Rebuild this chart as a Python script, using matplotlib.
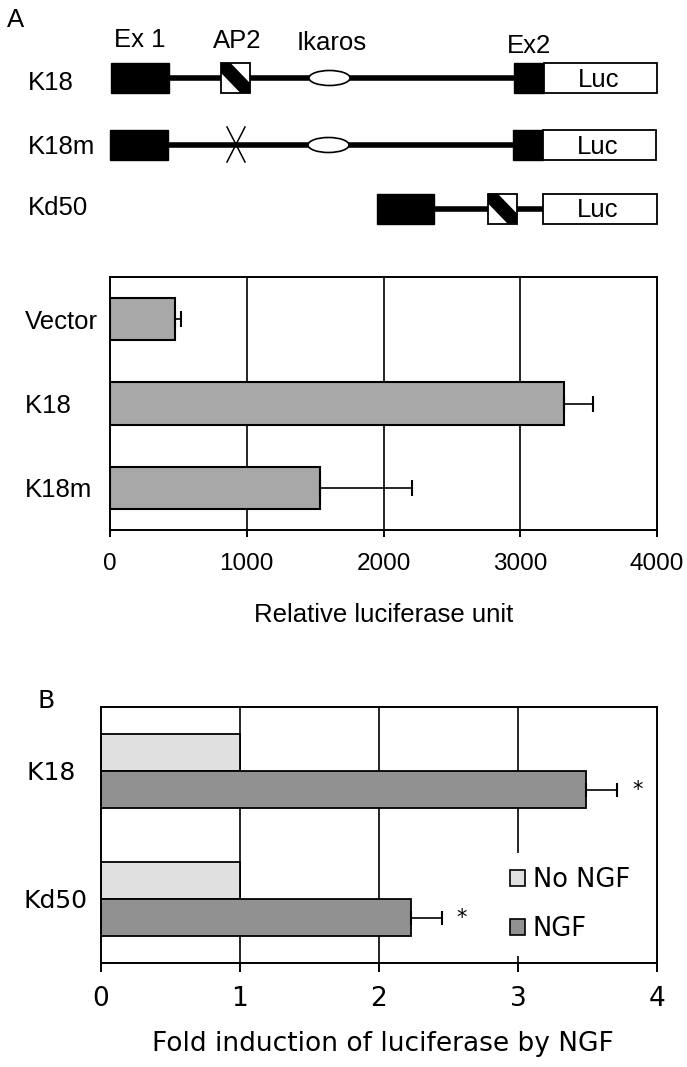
import numpy as np
import matplotlib.pyplot as plt
from matplotlib.patches import Rectangle, Ellipse, Polygon, Patch

W, H = 687, 1067

# panel A schematic
CONSTRUCTS = ["K18", "K18m", "Kd50"]
FEATURES = ["Ex 1", "AP2", "Ikaros", "Ex2"]
# elements of each construct: (kind, start, end) along the promoter (pixel units)
ELEMENTS = {
    "K18": [("line", 169, 514), ("exon", 111, 169), ("ap2", 221, 250),
            ("ikaros", 309, 350), ("exon", 514, 544), ("luc", 544, 657)],
    "K18m": [("line", 168, 513), ("exon", 110, 168), ("mut", 227, 245),
             ("ikaros", 308, 349), ("exon", 513, 543), ("luc", 543, 656)],
    "Kd50": [("line", 434, 543), ("exon", 377, 434), ("ap2", 488, 517),
             ("luc", 543, 657)],
}

# panel A bars
A_LABELS = ["Vector", "K18 ", "K18m"]
A_VALUES = [472, 3317, 1536]
A_ERRORS = [45, 215, 672]
A_TICKS = [0, 1000, 2000, 3000, 4000]

# panel B bars
B_LABELS = ["K18 ", "Kd50"]
B_NO_NGF = [1.0, 1.0]
B_NGF = [3.49, 2.23]
B_NGF_ERR = [0.22, 0.22]
B_TICKS = [0, 1, 2, 3, 4]

fig = plt.figure(figsize=(W / 100, H / 100), dpi=100)

def px_axes(left, top, right, bottom):
    return fig.add_axes([left / W, 1 - bottom / H, (right - left) / W, (bottom - top) / H])

# ---- schematic ----
ax0 = fig.add_axes([0, 0, 1, 1])
ax0.set_xlim(0, W)
ax0.set_ylim(H, 0)
ax0.axis("off")

lab_font = dict(family=["Liberation Sans", "DejaVu Sans"], fontsize=18.5)
ax0.text(7, 27, "A", va="baseline", ha="left", **lab_font)
ax0.text(37, 708, "B", va="baseline", ha="left", family="DejaVu Sans", fontsize=18)

feat_x = [140, 237, 332, 529]
feat_base = [47, 48, 50, 53]
for name, x, yb in zip(FEATURES, feat_x, feat_base):
    ax0.text(x, yb, name, ha="center", va="baseline", **lab_font)

row_y = [78, 145, 208.5]
row_base = [90, 154, 215]
luc_base = [87, 154, 217]
bh = 30
for name, yc, yb, lb in zip(CONSTRUCTS, row_y, row_base, luc_base):
    ax0.text(28, yb, name, ha="left", va="baseline", **lab_font)
    for kind, x0, x1 in ELEMENTS[name]:
        w = x1 - x0
        top = yc - bh / 2
        bot = top + bh
        if kind == "line":
            ax0.plot([x0, x1], [yc, yc], color="black", lw=4, solid_capstyle="butt", zorder=1)
        elif kind == "exon":
            ax0.add_patch(Rectangle((x0, top), w, bh, facecolor="black", edgecolor="black", lw=1, zorder=2))
        elif kind == "luc":
            ax0.add_patch(Rectangle((x0, top), w, bh, facecolor="white", edgecolor="black", lw=1.3, zorder=2))
            ax0.text(x0 + w / 2 - 2, lb, "Luc", ha="center", va="baseline", zorder=3, **lab_font)
        elif kind == "ap2":
            # diagonal stripe from top-left to bottom-right corner
            ax0.add_patch(Rectangle((x0, top), w, bh, facecolor="white", edgecolor="none", zorder=2))
            f = 0.33
            ax0.add_patch(Polygon([(x0, top), (x0 + f * w, top), (x1, bot - f * bh),
                                   (x1, bot), (x1 - f * w, bot), (x0, top + f * bh)],
                                  closed=True, facecolor="black", edgecolor="none", zorder=3))
            ax0.add_patch(Rectangle((x0, top), w, bh, facecolor="none", edgecolor="black", lw=1.3, zorder=4))
        elif kind == "ikaros":
            ax0.add_patch(Ellipse(((x0 + x1) / 2, yc), w, 15, facecolor="white", edgecolor="black", lw=1.2, zorder=2))
        elif kind == "mut":
            ax0.plot([x0, x1], [yc - 18, yc + 17], color="black", lw=1.1, zorder=2)
            ax0.plot([x1, x0], [yc - 18, yc + 17], color="black", lw=1.1, zorder=2)

# ---- panel A bars ----
axA = px_axes(110, 277, 657, 530)
ya = np.arange(len(A_LABELS))
axA.barh(ya, A_VALUES, height=0.5, color="#a8a8a8", edgecolor="black", lw=1.5, zorder=2)
axA.errorbar(A_VALUES, ya, xerr=[np.zeros(len(A_ERRORS)), A_ERRORS], fmt="none",
             ecolor="black", elinewidth=1.2, capsize=5.5, capthick=1.5, zorder=3)
axA.set_xlim(0, 4000)
axA.set_ylim(2.5, -0.5)
axA.set_xticks(A_TICKS)
axA.set_xticklabels([str(t) for t in A_TICKS], family=["Liberation Sans Narrow", "Liberation Sans"], fontsize=17.5)
axA.set_yticks(ya)
axA.set_yticklabels(A_LABELS, ha="left", **lab_font)
axA.tick_params(axis="y", length=0, pad=61)
axA.tick_params(axis="x", length=5, width=1.4, pad=11.5, direction="out")
for t in A_TICKS[1:-1]:
    axA.axvline(t, color="black", lw=1.2, zorder=1)
for s in axA.spines.values():
    s.set_linewidth(1.4)
axA.set_xlabel("Relative luciferase unit", va="baseline", **lab_font)
axA.xaxis.set_label_coords(0.5, (530 - 622) / 253)

# ---- panel B bars ----
axB = px_axes(101, 707, 657, 963)
yb_ = np.arange(len(B_LABELS))
hb = 0.29
axB.barh(yb_ - hb / 2, B_NO_NGF, height=hb, color="#e0e0e0", edgecolor="black", lw=1.3, zorder=2, label="No NGF")
axB.barh(yb_ + hb / 2, B_NGF, height=hb, color="#919191", edgecolor="black", lw=1.3, zorder=2, label="NGF")
axB.errorbar(B_NGF, yb_ + hb / 2, xerr=[np.zeros(len(B_NGF_ERR)), B_NGF_ERR], fmt="none",
             ecolor="black", elinewidth=1.2, capsize=5, capthick=1.5, zorder=3)
for v, e, y in zip(B_NGF, B_NGF_ERR, yb_ + hb / 2):
    axB.text(v + e + 0.11, y, "*", ha="left", va="center", fontsize=15, family="DejaVu Sans")
axB.set_xlim(0, 4)
axB.set_ylim(1.5, -0.5)
axB.set_xticks(B_TICKS)
axB.set_xticklabels([str(t) for t in B_TICKS], family="DejaVu Sans", fontsize=19)
axB.set_yticks(yb_)
axB.set_yticklabels(B_LABELS, ha="center", family="DejaVu Sans", fontsize=18)
axB.tick_params(axis="y", length=0, pad=33)
axB.tick_params(axis="x", length=6.5, width=1.4, pad=10, direction="out")
for t in B_TICKS[1:-1]:
    axB.axvline(t, color="black", lw=1.2, zorder=1)
for s in axB.spines.values():
    s.set_linewidth(1.4)
axB.set_xlabel("Fold induction of luciferase by NGF", va="baseline", family="DejaVu Sans", fontsize=19)
axB.xaxis.set_label_coords(0.507, (963 - 1051) / 256)
handles = [Patch(facecolor="#e0e0e0", edgecolor="black", lw=1.2),
           Patch(facecolor="#919191", edgecolor="black", lw=1.2)]
leg = axB.legend(handles, ["No NGF", "NGF"], loc="upper left",
                 bbox_to_anchor=(496 / W, 1 - 853 / H), bbox_transform=fig.transFigure,
                 prop=dict(family="DejaVu Sans", size=18.5), frameon=True, fancybox=False,
                 framealpha=1, facecolor="white", edgecolor="none",
                 handlelength=0.58, handleheight=0.55, handletextpad=0.3,
                 labelspacing=0.9, borderpad=0.55, borderaxespad=0)
leg.set_zorder(5)

fig.savefig("out.png", dpi=100)
